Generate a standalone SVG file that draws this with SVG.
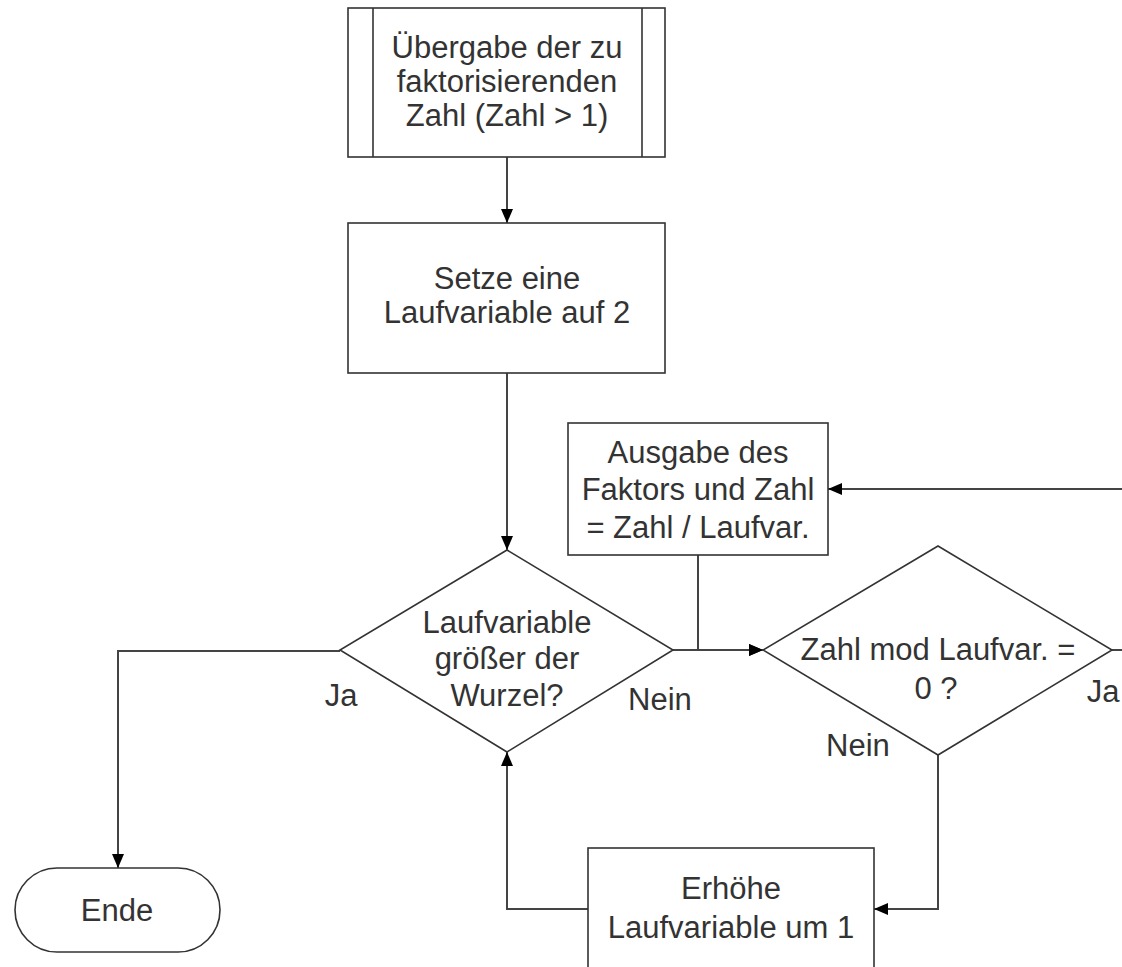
<svg xmlns="http://www.w3.org/2000/svg" width="1122" height="967" viewBox="0 0 1122 967">
<style>
.shape{fill:#ffffff;stroke:#333333;stroke-width:1.6}
.conn{fill:none;stroke:#444444;stroke-width:2}
text{font-family:"Liberation Sans",Arial,sans-serif;font-size:31px;fill:#333333;text-anchor:middle;dominant-baseline:central}
</style>
<defs>
<marker id="arr" viewBox="0 0 14 12" refX="14" refY="6" markerWidth="14" markerHeight="12" markerUnits="userSpaceOnUse" orient="auto">
<path d="M0,0 L14,6 L0,12 Z" fill="#000000"/>
</marker>
</defs>
<rect width="1122" height="967" fill="#ffffff"/>
<g id="connectors">
<line class="conn" x1="507" y1="157" x2="507" y2="223" marker-end="url(#arr)"/>
<line class="conn" x1="507" y1="373" x2="507" y2="550" marker-end="url(#arr)"/>
<polyline class="conn" points="340,651 118,651 118,868" marker-end="url(#arr)"/>
<line class="conn" x1="673" y1="650" x2="763" y2="650" marker-end="url(#arr)"/>
<polyline class="conn" points="698,555 698,650 763,650" marker-end="url(#arr)"/>
<line class="conn" x1="1112" y1="650" x2="1122" y2="650"/>
<line class="conn" x1="1122" y1="489" x2="828" y2="489" marker-end="url(#arr)"/>
<polyline class="conn" points="938,755 938,909 874,909" marker-end="url(#arr)"/>
<polyline class="conn" points="588,909 507,909 507,752" marker-end="url(#arr)"/>
</g>
<g id="start">
<rect class="shape" x="348" y="8" width="317" height="149"/>
<line class="shape" x1="373" y1="8" x2="373" y2="157"/>
<line class="shape" x1="642" y1="8" x2="642" y2="157"/>
<text x="507" y="47">Übergabe der zu</text>
<text x="507" y="81">faktorisierenden</text>
<text x="507" y="115">Zahl (Zahl &gt; 1)</text>
</g>
<g id="init">
<rect class="shape" x="348" y="223" width="317" height="150"/>
<text x="507" y="278">Setze eine</text>
<text x="507" y="312">Laufvariable auf 2</text>
</g>
<g id="check-root">
<polygon class="shape" points="507,550 673,650 507,752 340,650"/>
<text x="507" y="622">Laufvariable</text>
<text x="507" y="658">größer der</text>
<text x="507" y="695">Wurzel?</text>
<text x="341" y="695">Ja</text>
<text x="660" y="699">Nein</text>
</g>
<g id="end">
<rect class="shape" x="15" y="868" width="205" height="84" rx="42" ry="42"/>
<text x="117" y="910">Ende</text>
</g>
<g id="output">
<rect class="shape" x="568" y="423" width="260" height="132"/>
<text x="698" y="452">Ausgabe des</text>
<text x="698" y="489">Faktors und Zahl</text>
<text x="698" y="527">= Zahl / Laufvar.</text>
</g>
<g id="check-mod">
<polygon class="shape" points="938,546 1112,650 938,755 763,650"/>
<text x="938" y="649">Zahl mod Laufvar. =</text>
<text x="936" y="688">0 ?</text>
<text x="1103" y="691">Ja</text>
<text x="858" y="745">Nein</text>
</g>
<g id="increment">
<rect class="shape" x="588" y="848" width="286" height="140"/>
<text x="731" y="888">Erhöhe</text>
<text x="731" y="927">Laufvariable um 1</text>
</g>
</svg>
